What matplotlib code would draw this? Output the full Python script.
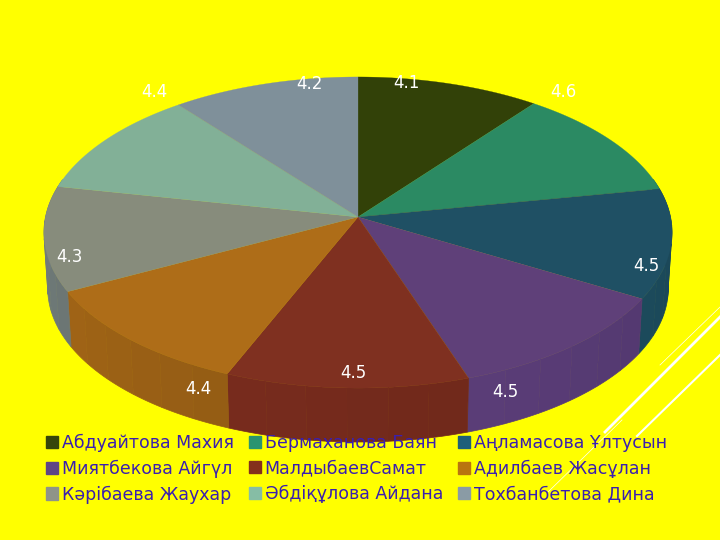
import matplotlib
matplotlib.use("Agg")
import matplotlib.pyplot as plt
from matplotlib.patches import Patch
import numpy as np

names = ["Абдуайтова Махия", "Бермаханова Баян", "Аңламасова Ұлтусын",
         "Миятбекова Айгүл", "МалдыбаевСамат", "Адилбаев Жасұлан",
         "Кәрібаева Жаухар", "Әбдіқұлова Айдана", "Тохбанбетова Дина"]
values = [4.1, 4.6, 4.5, 4.5, 4.5, 4.4, 4.3, 4.4, 4.2]
top_colors = ["#324108", "#2b8a63", "#1f5064", "#5f4079", "#7f3020",
              "#ae6d18", "#878c7c", "#82b097", "#7f909a"]
wall_colors = ["#2a3707", "#237252", "#1b4858", "#573b74", "#742a1c",
               "#9a6015", "#6f7a78", "#6f9580", "#6b7a83"]
key_colors = ["#36460b", "#2a9470", "#1d5f7a", "#5f4585", "#84301c",
              "#b9750f", "#8f9488", "#86bda5", "#8a9ba5"]
label_pos = [(406, 83), (563, 92), (646, 266), (505, 392), (353, 373),
             (198, 389), (69, 257), (154, 92), (309, 84)]

# perspective of the pie disc, in pixels
CX, CY = 358, 217
A, B, K = 312.5, 154, 0.0997
DEPTH = 56


def project(theta, drop=0.0, scale=1.0):
    u, v = np.sin(theta), np.cos(theta)
    w = 1 + K * v
    return CX + scale * A * u / w, CY + drop - scale * B * v / w


fig = plt.figure(figsize=(7.2, 5.4), dpi=100, facecolor="#ffff00")
ax = fig.add_axes([0, 0, 1, 1])
ax.set_xlim(0, 720)
ax.set_ylim(540, 0)
ax.axis("off")

# white lines in the bottom right corner
for x0, y0, x1, y1, lw in [(720, 307, 660, 365, 0.5), (720, 317, 605, 432, 2.0),
                           (720, 355, 637, 436, 1.5), (622, 420, 548, 492, 0.5)]:
    ax.plot([x0, x1], [y0, y1], color="white", lw=lw, zorder=1)

edges = np.concatenate([[0], np.cumsum(values)]) / np.sum(values) * 2 * np.pi

# side wall, front part only, a few broad bands per slice
for i, col in enumerate(wall_colors):
    a0, a1 = max(edges[i], np.pi * 0.42), min(edges[i + 1], np.pi * 1.58)
    if a1 <= a0:
        continue
    bands = np.linspace(a0, a1, 7)
    base = np.array(matplotlib.colors.to_rgb(col))
    for j, (s0, s1) in enumerate(zip(bands[:-1], bands[1:])):
        t = np.linspace(s0, s1, 12)
        x_top, y_top = project(t)
        x_bot, y_bot = project(t[::-1], DEPTH, 0.988)
        shade = np.clip(base * (0.97 + 0.012 * j), 0, 1)
        ax.fill(np.r_[x_top, x_bot], np.r_[y_top, y_bot], color=shade,
                lw=0.5, zorder=2)

# top face
for i, col in enumerate(top_colors):
    t = np.linspace(edges[i], edges[i + 1], 60)
    x, y = project(t)
    ax.fill(np.r_[CX, x], np.r_[CY, y], color=col, lw=0.2, zorder=3)

for (px, py), val in zip(label_pos, values):
    ax.text(px, py, f"{val:.1f}", color="white", fontsize=12,
            ha="center", va="center", zorder=5)

# legend fills by column, the picture reads by row
handles = [Patch(color=c, label=n) for c, n in zip(key_colors, names)]
order = [0, 3, 6, 1, 4, 7, 2, 5, 8]
leg = ax.legend(handles=[handles[k] for k in order], ncol=3, loc="upper left",
                frameon=False, bbox_to_anchor=(0.064, 0.197), fontsize=12.5,
                labelcolor="#3a1fb0", handlelength=0.7, handleheight=0.7,
                handletextpad=0.2, columnspacing=0.88, labelspacing=0.44,
                borderpad=0, borderaxespad=0)
leg.set_zorder(6)

fig.savefig("out.png", dpi=100, facecolor=fig.get_facecolor())
